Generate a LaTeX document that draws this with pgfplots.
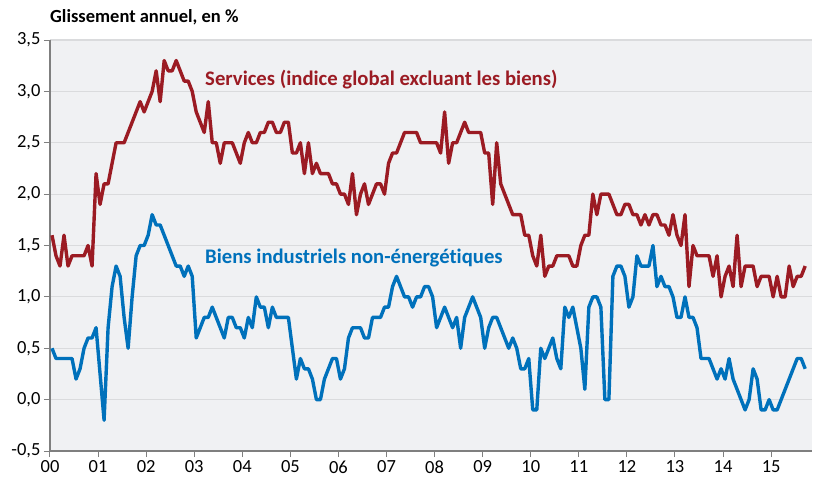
\documentclass[border=0pt]{standalone}
\usepackage{fontspec}
\setmainfont{Carlito}[Ligatures=NoCommon]
\usepackage{pgfplots}
\usepackage{pgfplotstable}
\pgfplotsset{compat=1.18}
\definecolor{servred}{HTML}{9B1B23}
\definecolor{bienblue}{HTML}{0071BB}
\definecolor{bggray}{HTML}{F0F1F3}
\definecolor{gridgray}{HTML}{DADBDD}
\definecolor{axisgray}{HTML}{7F7F7F}
\pgfplotstableread{
s b
1.6 0.5
1.4 0.4
1.3 0.4
1.6 0.4
1.3 0.4
1.4 0.4
1.4 0.2
1.4 0.3
1.4 0.5
1.5 0.6
1.3 0.6
2.2 0.7
1.9 0.25
2.1 -0.2
2.1 0.7
2.3 1.1
2.5 1.3
2.5 1.2
2.5 0.8
2.6 0.5
2.7 1.0
2.8 1.4
2.9 1.5
2.8 1.5
2.9 1.6
3.0 1.8
3.2 1.7
2.9 1.7
3.3 1.6
3.2 1.5
3.2 1.4
3.3 1.3
3.2 1.3
3.1 1.2
3.1 1.3
3.0 1.2
2.8 0.6
2.7 0.7
2.6 0.8
2.9 0.8
2.5 0.9
2.5 0.8
2.3 0.7
2.5 0.6
2.5 0.8
2.5 0.8
2.4 0.7
2.3 0.7
2.5 0.6
2.6 0.8
2.5 0.7
2.5 1.0
2.6 0.9
2.6 0.9
2.7 0.7
2.7 0.9
2.6 0.8
2.6 0.8
2.7 0.8
2.7 0.8
2.4 0.5
2.4 0.2
2.5 0.4
2.2 0.3
2.5 0.3
2.2 0.2
2.3 0.0
2.2 0.0
2.2 0.2
2.2 0.3
2.1 0.4
2.1 0.4
2.0 0.2
2.0 0.3
1.9 0.6
2.2 0.7
1.8 0.7
2.0 0.7
2.1 0.6
1.9 0.6
2.0 0.8
2.1 0.8
2.1 0.8
2.0 0.9
2.3 0.9
2.4 1.1
2.4 1.2
2.5 1.1
2.6 1.0
2.6 1.0
2.6 0.9
2.6 1.0
2.5 1.0
2.5 1.1
2.5 1.1
2.5 1.0
2.5 0.7
2.4 0.8
2.8 0.9
2.3 0.8
2.5 0.7
2.5 0.8
2.6 0.5
2.7 0.8
2.6 0.9
2.6 1.0
2.6 0.9
2.6 0.8
2.4 0.5
2.4 0.7
1.9 0.8
2.5 0.8
2.1 0.7
2.0 0.6
1.9 0.5
1.8 0.6
1.8 0.5
1.8 0.3
1.6 0.3
1.6 0.4
1.4 -0.1
1.3 -0.1
1.6 0.5
1.2 0.4
1.3 0.5
1.3 0.6
1.4 0.4
1.4 0.3
1.4 0.9
1.4 0.8
1.3 0.9
1.3 0.7
1.5 0.5
1.6 0.1
1.6 0.9
2.0 1.0
1.8 1.0
2.0 0.9
2.0 0.0
2.0 0.0
1.9 1.2
1.8 1.3
1.8 1.3
1.9 1.2
1.9 0.9
1.8 1.0
1.8 1.4
1.7 1.3
1.8 1.3
1.7 1.3
1.8 1.5
1.8 1.1
1.7 1.2
1.7 1.1
1.6 1.1
1.8 1.0
1.6 0.8
1.5 0.8
1.8 1.0
1.1 0.8
1.5 0.8
1.4 0.7
1.4 0.4
1.4 0.4
1.4 0.4
1.2 0.3
1.4 0.2
1.0 0.3
1.2 0.2
1.3 0.4
1.1 0.2
1.6 0.1
1.1 0.0
1.3 -0.1
1.3 0.0
1.3 0.3
1.1 0.2
1.2 -0.1
1.2 -0.1
1.2 0.0
1.0 -0.1
1.2 -0.1
1.0 0.0
1.0 0.1
1.3 0.2
1.1 0.3
1.2 0.4
1.2 0.4
1.3 0.3
}\datatable
\begin{document}
\begin{tikzpicture}
\begin{axis}[
  scale only axis, width=762pt, height=411pt,
  xmin=0, xmax=190.2, ymin=-0.5, ymax=3.5,
  axis x line*=bottom, axis y line*=left,
  x axis line style={-}, y axis line style={-},
  axis line style={axisgray, line width=1.6pt},
  axis background/.style={fill=bggray},
  xtick={0,12,...,180},
  xticklabels={00,01,02,03,04,05,06,07,08,09,10,11,12,13,14,15},
  ytick={-0.5,0,0.5,1,1.5,2,2.5,3,3.5},
  ymajorgrids, grid style={gridgray, line width=1.2pt},
  tick pos=left, tick align=outside, major tick length=6pt,
  tick style={axisgray, line width=1pt},
  every tick label/.append style={font=\fontsize{18.5}{20}\selectfont},
  /pgf/number format/assume math mode=true,
  yticklabel style={/pgf/number format/.cd, use comma, fixed, fixed zerofill, precision=1},
  clip=false,
]
\addplot[servred, line width=3.4pt, line join=round] table[x expr=\coordindex+0.5, y=s] {\datatable};
\addplot[bienblue, line width=3.4pt, line join=round] table[x expr=\coordindex+0.5, y=b] {\datatable};
\node[anchor=base west, inner sep=0, text=servred, font=\bfseries\fontsize{20.7}{22}\selectfont] at (axis cs:38.7,3.06) {Services (indice global excluant les biens)};
\node[anchor=base west, inner sep=0, text=bienblue, font=\bfseries\fontsize{20.7}{22}\selectfont] at (axis cs:38.7,1.32) {Biens industriels non-énergétiques};
\end{axis}
\node[anchor=base west, inner sep=0, font=\bfseries\fontsize{18.5}{20}\selectfont] at (0pt,428.5pt) {Glissement annuel, en \%};
\pgfresetboundingbox
\path[use as bounding box] (-50pt,-29pt) rectangle (764pt,451pt);
\end{tikzpicture}
\end{document}
